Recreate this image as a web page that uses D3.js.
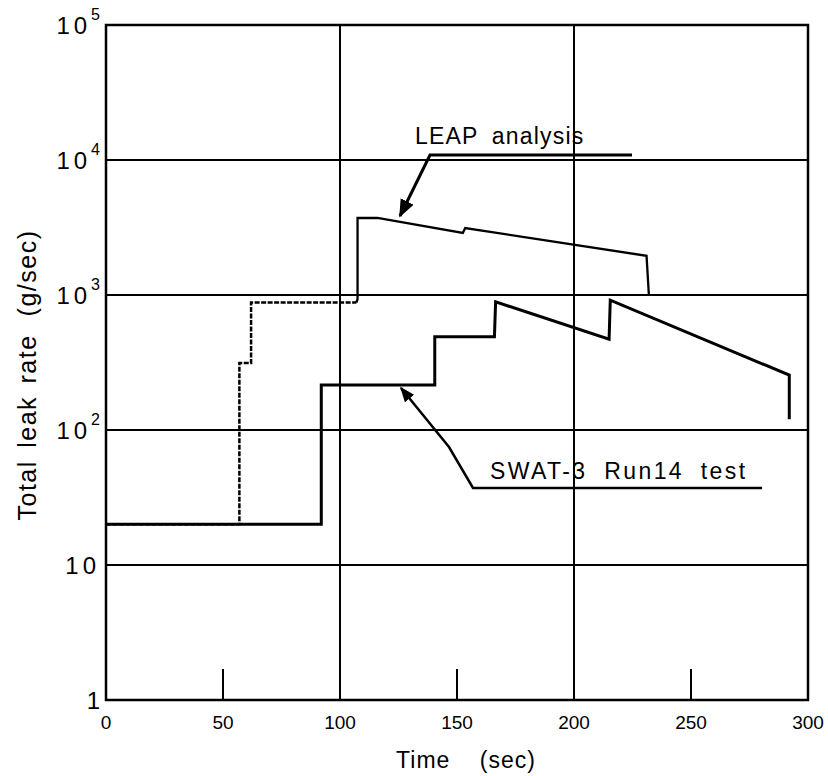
<!DOCTYPE html>
<html>
<head>
    <script src="https://d3js.org/d3.v7.min.js"></script>
    <title>Total leak rate vs time</title>
    <style>
        body { margin: 0; background: #fff; }
        text { font-family: "Liberation Sans", Arial, sans-serif; fill: #000; }
    </style>
</head>
<body>
    <svg id="plot" width="828" height="776"></svg>
    <script>
        // data (time in sec, leak rate in g/sec)
        const leapEarlyTime = [0, 57, 57, 62, 62, 107];
        const leapEarlyRate = [20, 20, 313, 313, 880, 880];
        const leapTime = [107, 107.5, 107.5, 116, 152.5, 153.5, 231, 232];
        const leapRate = [880, 930, 3720, 3720, 2880, 3130, 1950, 1000];
        const swatTime = [0, 92, 92, 140.5, 140.5, 166, 166.5, 215, 215.5, 292, 292];
        const swatRate = [20, 20, 215, 215, 490, 490, 890, 470, 915, 255, 120];

        const xTicks = [0, 50, 100, 150, 200, 250, 300];
        const xGrid = [100, 200];
        const xMinor = [50, 150, 250];
        const yTicks = [1, 10, 100, 1000, 10000, 100000];
        const yTickExp = ['', '', '2', '3', '4', '5'];

        const svg = d3.select('svg#plot');
        const width = +svg.attr('width');
        const height = +svg.attr('height');
        const margin = {top: 25, right: 20, bottom: 76, left: 106};
        const chartWidth = width - margin.left - margin.right;
        const chartHeight = height - margin.top - margin.bottom;

        const chartArea = svg.append('g')
            .attr('transform', `translate(${margin.left},${margin.top})`);

        const xScale = d3.scaleLinear().domain([0, 300]).range([0, chartWidth]);
        const yScale = d3.scaleLog().domain([1, 100000]).range([chartHeight, 0]);

        // horizontal grid at every decade
        chartArea.selectAll('line.hgrid')
            .data(yTicks)
            .join('line')
            .attr('class', 'hgrid')
            .attr('x1', 0).attr('x2', chartWidth)
            .attr('y1', d => yScale(d)).attr('y2', d => yScale(d))
            .style('stroke', '#000').style('stroke-width', 2);

        // vertical grid
        chartArea.selectAll('line.vgrid')
            .data(xGrid)
            .join('line')
            .attr('class', 'vgrid')
            .attr('x1', d => xScale(d)).attr('x2', d => xScale(d))
            .attr('y1', 0).attr('y2', chartHeight)
            .style('stroke', '#000').style('stroke-width', 2);

        // short ticks at 50/150/250
        chartArea.selectAll('line.minor')
            .data(xMinor)
            .join('line')
            .attr('class', 'minor')
            .attr('x1', d => xScale(d)).attr('x2', d => xScale(d))
            .attr('y1', chartHeight).attr('y2', chartHeight - 31)
            .style('stroke', '#000').style('stroke-width', 2);

        // frame
        chartArea.append('rect')
            .attr('x', 0).attr('y', 0)
            .attr('width', chartWidth).attr('height', chartHeight)
            .style('fill', 'none').style('stroke', '#000').style('stroke-width', 2.5);

        // x tick labels
        chartArea.selectAll('text.xtick')
            .data(xTicks)
            .join('text')
            .attr('class', 'xtick')
            .attr('x', d => xScale(d))
            .attr('y', chartHeight + 29)
            .attr('text-anchor', 'middle')
            .attr('font-size', '19px')
            .text(d => d);

        // y tick labels, 10 with superscript exponent
        yTicks.forEach((d, i) => {
            const t = chartArea.append('text')
                .attr('x', -6)
                .attr('y', yScale(d) + 9)
                .attr('text-anchor', 'end')
                .attr('font-size', '24px');
            if (d === 1) {
                t.text('1');
            } else {
                t.append('tspan').attr('letter-spacing', '4px').text('10');
                if (yTickExp[i]) {
                    t.append('tspan')
                        .attr('dy', -14)
                        .attr('font-size', '16px')
                        .text(yTickExp[i]);
                }
            }
        });

        const line = d3.line()
            .x(d => xScale(d[0]))
            .y(d => yScale(d[1]));

        const leapEarly = leapEarlyTime.map((t, i) => [t, leapEarlyRate[i]]);
        const leap = leapTime.map((t, i) => [t, leapRate[i]]);
        const swat = swatTime.map((t, i) => [t, swatRate[i]]);

        chartArea.append('path')
            .datum(leapEarly)
            .attr('d', line)
            .style('fill', 'none').style('stroke', '#000')
            .style('stroke-width', 2.5).style('stroke-dasharray', '5,1.5');

        chartArea.append('path')
            .datum(leap)
            .attr('d', line)
            .style('fill', 'none').style('stroke', '#000')
            .style('stroke-width', 2.3);

        chartArea.append('path')
            .datum(swat)
            .attr('d', line)
            .style('fill', 'none').style('stroke', '#000')
            .style('stroke-width', 3);

        // annotations with arrows
        svg.append('defs').append('marker')
            .attr('id', 'head')
            .attr('viewBox', '0 0 10 10')
            .attr('refX', 9).attr('refY', 5)
            .attr('markerWidth', 6).attr('markerHeight', 6)
            .attr('markerUnits', 'strokeWidth')
            .attr('orient', 'auto')
            .append('path')
            .attr('d', 'M0,1 L10,5 L0,9 Z')
            .style('fill', '#000');

        svg.append('text')
            .attr('x', 415).attr('y', 144)
            .attr('font-size', '23px')
            .attr('letter-spacing', '1.2px')
            .attr('word-spacing', '6px')
            .text('LEAP analysis');
        svg.append('polyline')
            .attr('points', '632,155 430,155 400,216')
            .style('fill', 'none').style('stroke', '#000').style('stroke-width', 3)
            .attr('marker-end', 'url(#head)');

        svg.append('text')
            .attr('x', 490).attr('y', 479)
            .attr('font-size', '23px')
            .attr('letter-spacing', '2.4px')
            .attr('word-spacing', '8px')
            .text('SWAT-3 Run14 test');
        svg.append('polyline')
            .attr('points', '762,488 473,488 449,447 401,388')
            .style('fill', 'none').style('stroke', '#000').style('stroke-width', 2.5)
            .attr('marker-end', 'url(#head)');

        // axis titles
        svg.append('text')
            .attr('x', 466)
            .attr('y', 768)
            .attr('text-anchor', 'middle')
            .attr('font-size', '23px')
            .attr('letter-spacing', '1px')
            .attr('word-spacing', '22px')
            .text('Time (sec)');

        svg.append('text')
            .attr('transform', 'translate(36,375) rotate(-90)')
            .attr('text-anchor', 'middle')
            .attr('font-size', '25px')
            .attr('letter-spacing', '1.5px')
            .attr('word-spacing', '4px')
            .text('Total leak rate')
            .append('tspan')
            .attr('dx', 18)
            .text('(g/sec)');
    </script>
</body>
</html>
